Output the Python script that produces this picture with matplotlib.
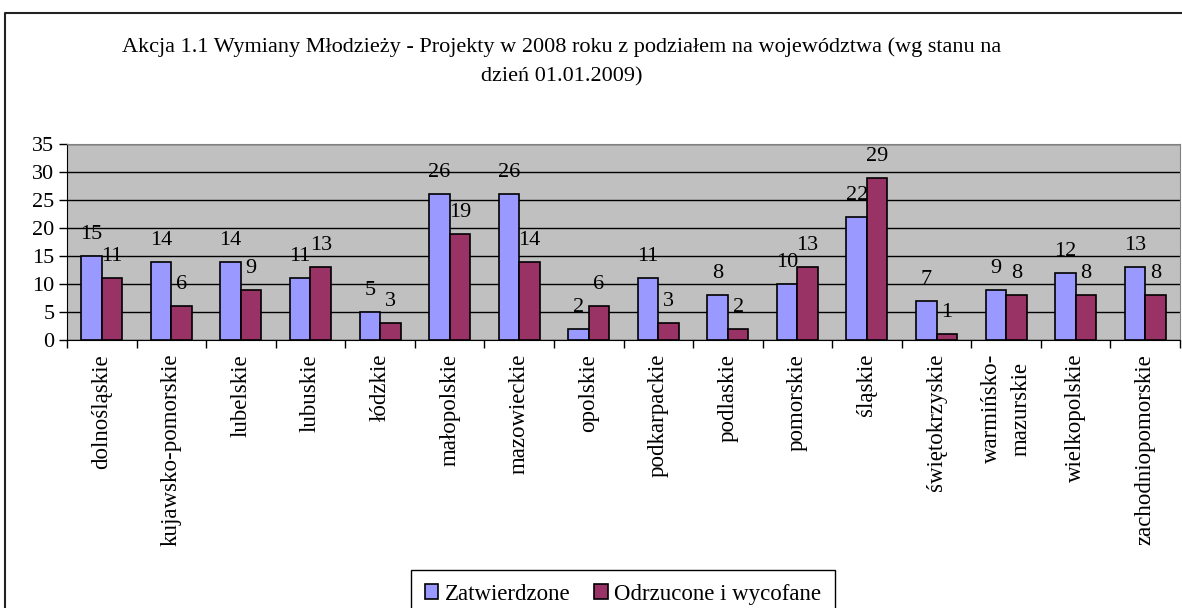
import matplotlib
matplotlib.use("Agg")
import matplotlib.pyplot as plt
import numpy as np
from matplotlib.lines import Line2D

plt.rcParams['font.family'] = ['Liberation Serif', 'DejaVu Serif']

categories = ["dolnośląskie", "kujawsko-pomorskie", "lubelskie", "lubuskie", "łódzkie",
              "małopolskie", "mazowieckie", "opolskie", "podkarpackie", "podlaskie",
              "pomorskie", "śląskie", "świętokrzyskie", "warmińsko-\nmazurskie",
              "wielkopolskie", "zachodniopomorskie"]
zatwierdzone = [15, 14, 14, 11, 5, 26, 26, 2, 11, 8, 10, 22, 7, 9, 12, 13]
odrzucone = [11, 6, 9, 13, 3, 19, 14, 6, 3, 2, 13, 29, 1, 8, 8, 8]
series_names = ["Zatwierdzone", "Odrzucone i wycofane"]
yticks = [0, 5, 10, 15, 20, 25, 30, 35]
title_lines = ["Akcja 1.1 Wymiany Młodzieży - Projekty w 2008 roku z podziałem na województwa (wg stanu na",
               "dzień 01.01.2009)"]

W, H = 1182, 608
fig = plt.figure(figsize=(W / 100, H / 100), dpi=100)
ax = fig.add_axes([67 / W, 1 - 340 / H, (1180 - 67) / W, (340 - 144) / H])
ax.set_facecolor('#C0C0C0')

x = np.arange(len(categories))
bw = 0.295
b1 = ax.bar(x - bw / 2, zatwierdzone, bw, color='#9999FF', edgecolor='black', linewidth=1.2, zorder=3)
b2 = ax.bar(x + bw / 2, odrzucone, bw, color='#993366', edgecolor='black', linewidth=1.2, zorder=3)

for xi, v in zip(x, zatwierdzone):
    ax.annotate(str(v), (xi - bw / 2, v), xytext=(0, 15.5), textcoords='offset points',
                ha='center', va='center', fontsize=16, zorder=4)
for xi, v in zip(x, odrzucone):
    ax.annotate(str(v), (xi + bw / 2, v), xytext=(0, 15.5), textcoords='offset points',
                ha='center', va='center', fontsize=16, zorder=4)

ax.set_xlim(-0.5, len(categories) - 0.5)
ax.set_ylim(0, 35)
ax.set_yticks(yticks)
ax.set_yticklabels([str(t) for t in yticks], fontsize=16)
ax.yaxis.grid(True, color='black', linewidth=1, zorder=1)
ax.set_axisbelow(True)
ax.tick_params(axis='y', direction='out', length=6, width=1, pad=3)

ax.set_xticks(x)
ax.set_xticklabels(categories, rotation=90, fontsize=16.5, va='top', ha='center',
                   multialignment='center', linespacing=1.5)
ax.tick_params(axis='x', which='major', length=0, pad=10)
ax.set_xticks(np.arange(-0.5, len(categories), 1), minor=True)
ax.tick_params(axis='x', which='minor', direction='out', length=6, width=1)

ax.spines['left'].set_color('black')
ax.spines['bottom'].set_color('black')
ax.spines['top'].set_color('#808080')
ax.spines['right'].set_color('#808080')

fig.text(562 / W, 1 - 47 / H, title_lines[0], ha='center', va='center', fontsize=16)
fig.text(562 / W, 1 - 77 / H, title_lines[1], ha='center', va='center', fontsize=16)

leg = fig.legend([b1, b2], series_names, loc='upper center',
                 bbox_to_anchor=(623 / W, 1 - 570 / H), ncol=2, fontsize=16.5,
                 frameon=True, fancybox=False, edgecolor='black', framealpha=1,
                 handlelength=0.6, handleheight=0.6, handletextpad=0.3,
                 columnspacing=1.0, borderpad=0.6, borderaxespad=0)
leg.get_frame().set_linewidth(1)

# outer chart frame (only left and top edges are inside the image)
fig.add_artist(Line2D([5 / W, 5 / W, 1.01], [-0.01, 1 - 13 / H, 1 - 13 / H],
                      transform=fig.transFigure, color='#222222', linewidth=1.5))

fig.savefig('out.png', dpi=100)
